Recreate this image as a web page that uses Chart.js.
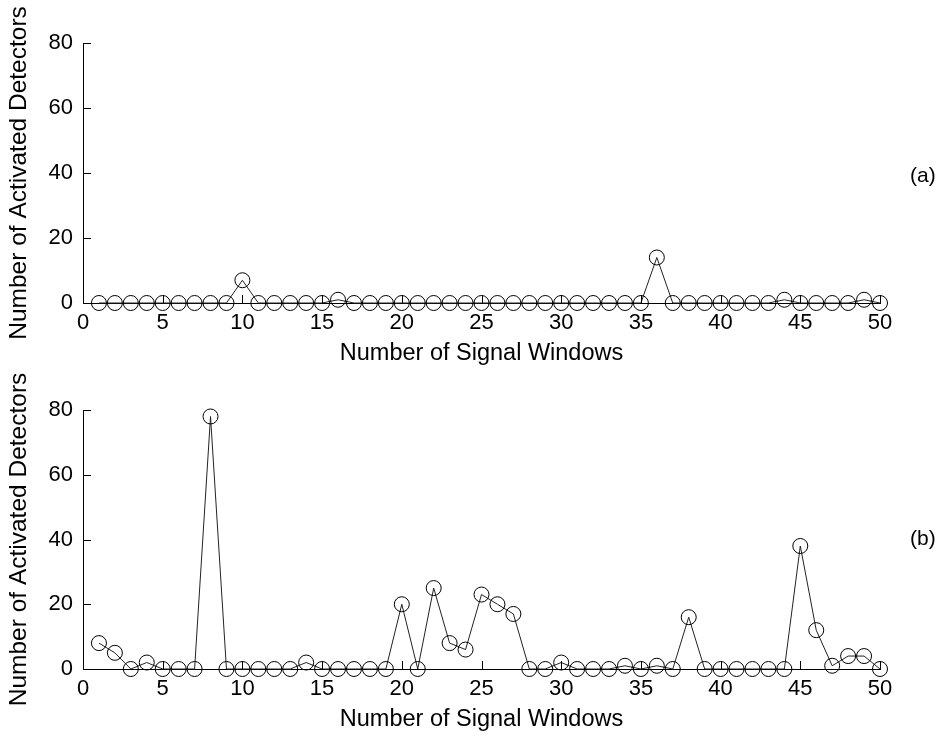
<!DOCTYPE html>
<html><head><meta charset="utf-8">
<script src="https://cdn.jsdelivr.net/npm/chart.js@4.4.1/dist/chart.umd.min.js"></script>
<style>
html,body{margin:0;padding:0;background:#fff;}
#wrap{position:relative;width:941px;height:736px;}
.pane{position:absolute;left:0;width:941px;height:368px;}
.lab{position:absolute;font-family:"Liberation Sans",Arial,sans-serif;font-size:21px;color:#000;line-height:24px;}
</style></head><body>
<div id="wrap">
<div class="pane" style="top:0"><canvas id="ca" width="941" height="368"></canvas></div>
<div class="pane" style="top:368px"><canvas id="cb" width="941" height="368"></canvas></div>
<div class="lab" style="left:910px;top:163px">(a)</div>
<div class="lab" style="left:910px;top:526px">(b)</div>
</div>
<script>
const windows = Array.from({length:50},(_,i)=>i+1);
const detectorsA = [0,0,0,0,0,0,0,0,0,7, 0,0,0,0,0,1,0,0,0,0, 0,0,0,0,0,0,0,0,0,0, 0,0,0,0,0,14,0,0,0,0, 0,0,0,1,0,0,0,0,1,0];
const detectorsB = [8,5,0,2,0,0,0,78,0,0, 0,0,0,2,0,0,0,0,0,20, 0,25,8,6,23,20,17,0,0,2, 0,0,0,1,0,1,0,16,0,0, 0,0,0,0,38,12,1,4,4,0];
const xTicks = [0,5,10,15,20,25,30,35,40,45,50];
const yTicks = [0,20,40,60,80];
const xTitle = "Number of Signal Windows";
const yTitle = "Number of Activated Detectors";

const FAM = "'Liberation Sans', Arial, sans-serif";
const TICKFONT = {family:FAM, size:22};
const XTFONT = {family:FAM, size:23.5};
const YTFONT = {family:FAM, size:24.5};

const inwardTicks = {
  id:'inwardTicks',
  afterDraw(chart){
    const ctx = chart.ctx, x = chart.scales.x, y = chart.scales.y;
    ctx.save();
    ctx.strokeStyle = '#000'; ctx.lineWidth = 1;
    ctx.beginPath();
    xTicks.forEach(v=>{ const px = Math.round(x.getPixelForValue(v))+0.5; ctx.moveTo(px, y.bottom); ctx.lineTo(px, y.bottom-8); });
    yTicks.forEach(v=>{ const py = Math.round(y.getPixelForValue(v))+0.5; ctx.moveTo(x.left, py); ctx.lineTo(x.left+8, py); });
    ctx.stroke();
    ctx.restore();
  }
};

function makeChart(id, data, topPad, plotH, titlePad){
  return new Chart(document.getElementById(id), {
    type:'line',
    data:{ datasets:[{ data: windows.map((w,i)=>({x:w,y:data[i]})),
      borderColor:'#222', borderWidth:1, pointRadius:7.5, pointHoverRadius:7.5,
      pointBackgroundColor:'rgba(0,0,0,0)', pointBorderColor:'#000', pointBorderWidth:1,
      tension:0, clip:false }]},
    options:{
      responsive:false, animation:false, devicePixelRatio:1,
      layout:{padding:{left:0,right:61,top:topPad,bottom:0}},
      plugins:{legend:{display:false}, tooltip:{enabled:false}},
      scales:{
        x:{ type:'linear', min:0, max:50,
          afterBuildTicks(s){ s.ticks = xTicks.map(v=>({value:v})); },
          afterFit(s){ s.height = 368 - topPad - plotH; },
          grid:{display:true, drawOnChartArea:false, drawTicks:false},
          border:{display:true,color:'#000',width:1},
          ticks:{color:'#000', font:TICKFONT, padding:7, maxRotation:0, autoSkip:false},
          title:{display:true, text:xTitle, color:'#000', font:XTFONT, padding:{top:titlePad,bottom:titlePad}}
        },
        y:{ min:0, max:80,
          afterBuildTicks(s){ s.ticks = yTicks.map(v=>({value:v})); },
          afterFit(s){ s.width = 83; },
          grid:{display:true, drawOnChartArea:false, drawTicks:false},
          border:{display:true,color:'#000',width:1},
          ticks:{color:'#000', font:TICKFONT, padding:10},
          title:{display:true, text:yTitle, color:'#000', font:YTFONT, padding:{top:5,bottom:5}}
        }
      }
    },
    plugins:[inwardTicks]
  });
}
makeChart('ca', detectorsA, 43, 260, 0);
makeChart('cb', detectorsB, 42, 259, 2);
</script>
</body></html>
